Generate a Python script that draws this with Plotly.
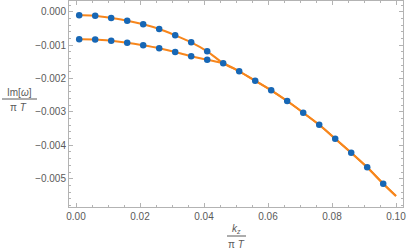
import plotly.graph_objects as go

# k_z / (pi T) positions of the computed points
k_branch = [0.001, 0.006, 0.011, 0.016, 0.021, 0.026, 0.031, 0.036, 0.041]
k_shared = [0.046, 0.051, 0.056, 0.061, 0.066, 0.071, 0.076, 0.081, 0.086, 0.091, 0.096]

# Im[omega]/(pi T) values
upper_branch = [-0.000108, -0.000120, -0.000189, -0.000269, -0.000377,
                -0.000518, -0.000707, -0.000916, -0.001186]
lower_branch = [-0.000826, -0.000832, -0.000871, -0.000928, -0.001006,
                -0.001096, -0.001207, -0.001335, -0.001440]
shared_branch = [-0.001545, -0.001784, -0.002066, -0.002353, -0.002674,
                 -0.003024, -0.003386, -0.003802, -0.004222, -0.004659, -0.005150]

# fitted curve end values
curve_k_start = 0.0
curve_k_end = 0.1
upper_curve_start = -0.000105
lower_curve_start = -0.000825
curve_end = -0.005518

x_ticks = [0.00, 0.02, 0.04, 0.06, 0.08, 0.10]
y_ticks = [0.000, -0.001, -0.002, -0.003, -0.004, -0.005]

ORANGE = "#F7861C"
BLUE = "#1767B5"
AXIS = "#b3b3b3"
TXT = "#5a5a5a"
FONT = "Liberation Sans"

fig = go.Figure()

for start, branch in [(upper_curve_start, upper_branch), (lower_curve_start, lower_branch)]:
    fig.add_trace(go.Scatter(
        x=[curve_k_start] + k_branch + k_shared + [curve_k_end],
        y=[start] + branch + shared_branch + [curve_end],
        mode="lines", line=dict(color=ORANGE, width=2, shape="spline", smoothing=0.6),
        showlegend=False, hoverinfo="skip"))

fig.add_trace(go.Scatter(
    x=k_branch + k_branch + k_shared,
    y=upper_branch + lower_branch + shared_branch,
    mode="markers", marker=dict(color=BLUE, size=6.5, line=dict(width=0)),
    showlegend=False))

W, H = 407, 251
L, R, T, B = 69, 4, 1, 44
pw, ph = W - L - R, H - T - B


def px(x):
    return (x - L) / pw


def py(y):
    return (H - B - y) / ph


axis_common = dict(
    showline=True, linecolor=AXIS, linewidth=1, mirror="ticks",
    ticks="inside", ticklen=4, tickwidth=1, tickcolor=AXIS,
    showgrid=False, zeroline=False, automargin=False,
    tickfont=dict(family=FONT, size=10, color=TXT),
)

fig.update_xaxes(range=[-0.0021875, 0.1021875], tickvals=x_ticks, tickformat=".2f",
                 minor=dict(dtick=0.005, tick0=0, ticks="inside", ticklen=2, tickcolor=AXIS),
                 **axis_common)
fig.update_yaxes(range=[-0.005847, 0.00032], tickvals=y_ticks, tickformat=".3f",
                 minor=dict(dtick=0.0002, tick0=0, ticks="inside", ticklen=2, tickcolor=AXIS),
                 **axis_common)

lab_font = dict(family=FONT, size=10, color=TXT)
annotations = [
    dict(text="Im[<i>ω</i>]", x=px(19.5), y=py(92), xref="paper", yref="paper",
         showarrow=False, xanchor="center", yanchor="middle", font=lab_font),
    dict(text="π <i>T</i>", x=px(18.5), y=py(107.5), xref="paper", yref="paper",
         showarrow=False, xanchor="center", yanchor="middle", font=lab_font),
    dict(text="<i>k<sub>z</sub></i>", x=px(236), y=py(229), xref="paper", yref="paper",
         showarrow=False, xanchor="center", yanchor="middle", font=lab_font),
    dict(text="π <i>T</i>", x=px(236), y=py(244.5), xref="paper", yref="paper",
         showarrow=False, xanchor="center", yanchor="middle", font=lab_font),
]
shapes = [
    dict(type="line", xref="paper", yref="paper", x0=px(2), x1=px(37), y0=py(99), y1=py(99),
         line=dict(color=TXT, width=1)),
    dict(type="line", xref="paper", yref="paper", x0=px(227), x1=px(246), y0=py(236), y1=py(236),
         line=dict(color=TXT, width=1)),
]

fig.update_layout(
    width=W, height=H,
    margin=dict(l=L, r=R, t=T, b=B, pad=0, autoexpand=False),
    paper_bgcolor="white", plot_bgcolor="white",
    annotations=annotations, shapes=shapes,
    showlegend=False,
)

fig.write_html("out.html", config={"displayModeBar": False},
               post_script="document.body.style.margin='0';document.body.style.overflow='hidden';")
